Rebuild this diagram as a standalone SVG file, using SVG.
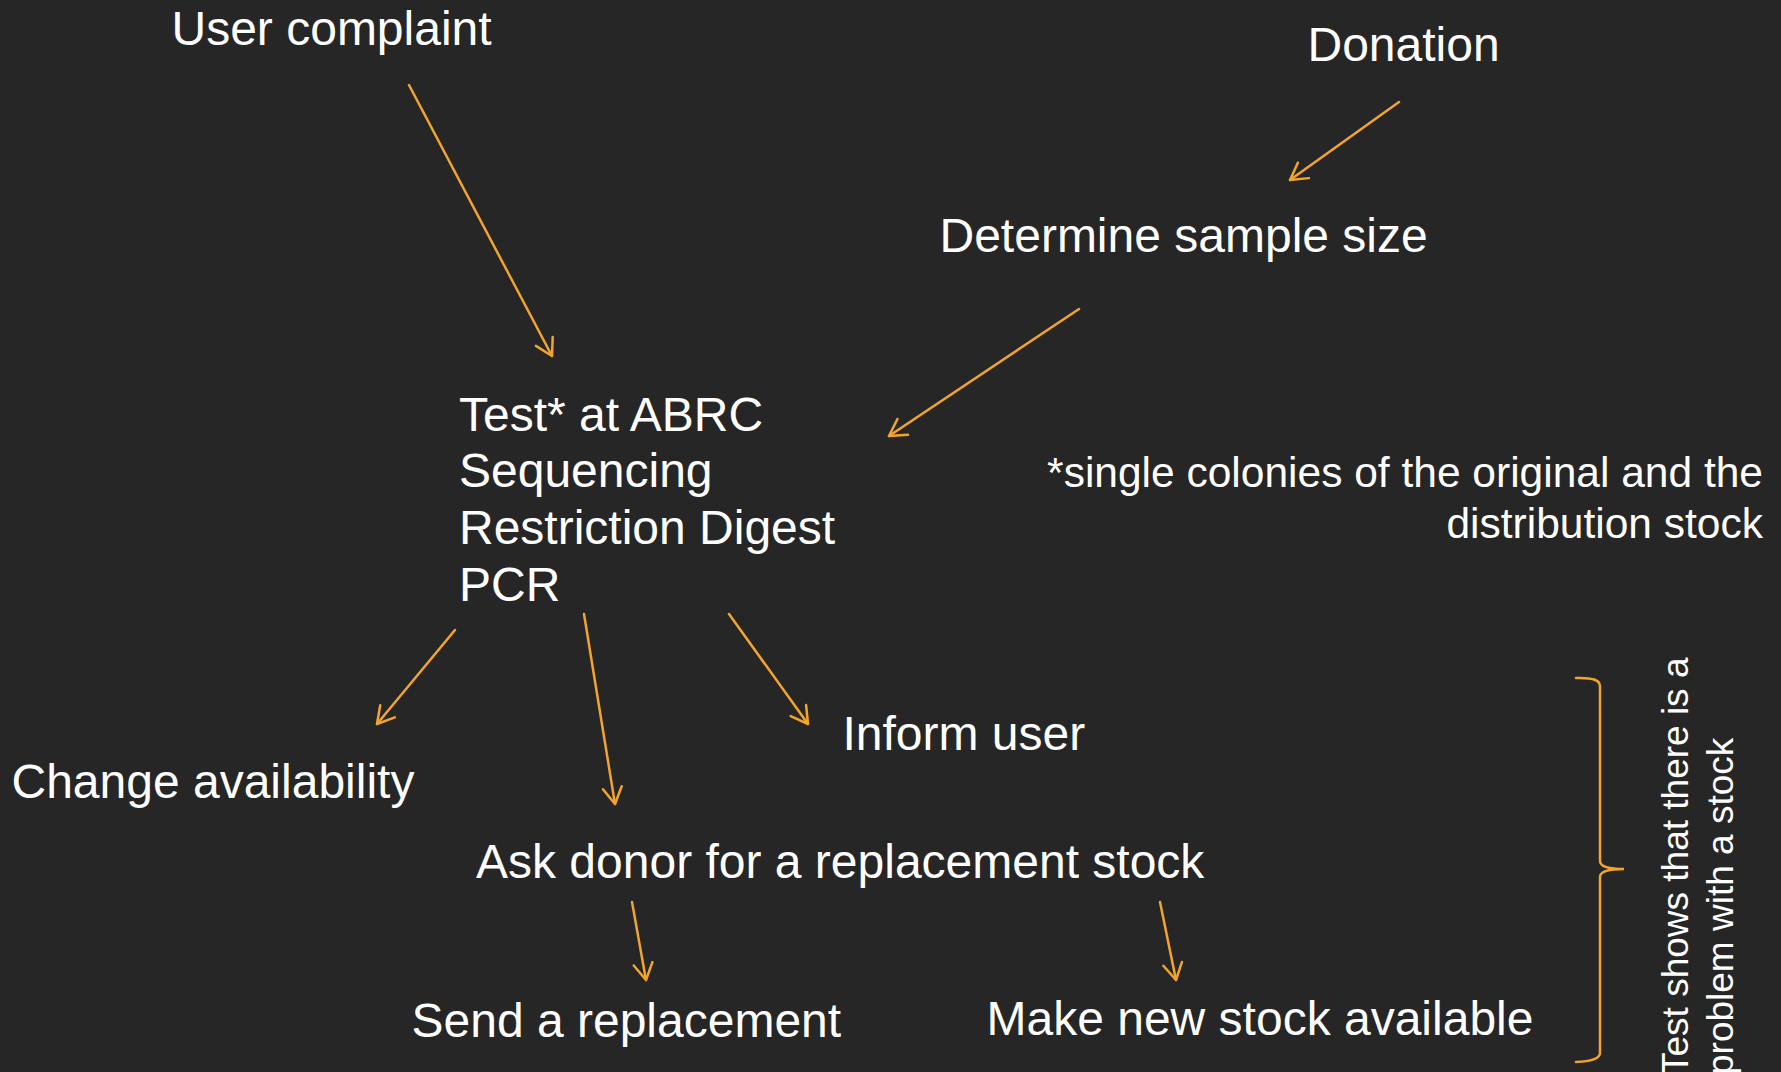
<svg xmlns="http://www.w3.org/2000/svg" width="1781" height="1072" viewBox="0 0 1781 1072">
<style>
.t{font-family:"Liberation Sans",Arial,sans-serif;fill:#ffffff;font-size:48px}
.s{font-size:42.5px}
.v{font-size:37px}
.c{stroke:#f2a42e;stroke-width:2.5;fill:none;stroke-linecap:round}
</style>
<defs>
<marker id="ah" markerUnits="userSpaceOnUse" viewBox="-20 -20 40 40" markerWidth="40" markerHeight="40" refX="0" refY="0" orient="auto">
<path d="M-16.5,-9.5 L0,0 L-16.5,9.5" fill="none" stroke="#f2a42e" stroke-width="2.5" stroke-linecap="round" stroke-linejoin="round"/>
</marker>
</defs>
<rect width="1781" height="1072" fill="#262626"/>
<g id="n-user-complaint"><text class="t" x="171.5" y="45">User complaint</text></g>
<g id="n-donation"><text class="t" x="1307.5" y="61">Donation</text></g>
<g id="n-determine"><text class="t" x="939.5" y="252">Determine sample size</text></g>
<g id="n-test"><text class="t" x="459" y="431">Test* at ABRC</text><text class="t" x="459" y="487">Sequencing</text><text class="t" x="459" y="544">Restriction Digest</text><text class="t" x="459" y="601">PCR</text></g>
<g id="n-note"><text class="t s" x="1763" y="487" text-anchor="end">*single colonies of the original and the</text><text class="t s" x="1763" y="538" text-anchor="end">distribution stock</text></g>
<g id="n-inform"><text class="t" x="842.5" y="750">Inform user</text></g>
<g id="n-change"><text class="t" x="11.5" y="798">Change availability</text></g>
<g id="n-ask"><text class="t" x="476" y="878">Ask donor for a replacement stock</text></g>
<g id="n-send"><text class="t" x="411.5" y="1037">Send a replacement</text></g>
<g id="n-make"><text class="t" x="986.5" y="1035">Make new stock available</text></g>
<g id="n-brace">
<path class="c" d="M1576,678 Q1600,677 1600,686 L1600,861 Q1600,869 1624,869 Q1600,869 1600,877 L1600,1053 Q1600,1061 1576,1062"/>
<text class="t v" transform="translate(1688,1075) rotate(-90)">Test shows that there is a</text>
<text class="t v" transform="translate(1733,1075) rotate(-90)">problem with a stock</text>
</g>
<g id="connectors">
<line class="c" x1="409" y1="85" x2="552" y2="356" marker-end="url(#ah)"/>
<line class="c" x1="1399" y1="102" x2="1290" y2="180" marker-end="url(#ah)"/>
<line class="c" x1="1079" y1="309" x2="889" y2="436" marker-end="url(#ah)"/>
<line class="c" x1="455" y1="630" x2="377" y2="724" marker-end="url(#ah)"/>
<line class="c" x1="584" y1="614" x2="615" y2="804" marker-end="url(#ah)"/>
<line class="c" x1="729" y1="614" x2="808" y2="724" marker-end="url(#ah)"/>
<line class="c" x1="632" y1="902" x2="646" y2="980" marker-end="url(#ah)"/>
<line class="c" x1="1160" y1="902" x2="1176" y2="980" marker-end="url(#ah)"/>
</g>
</svg>
